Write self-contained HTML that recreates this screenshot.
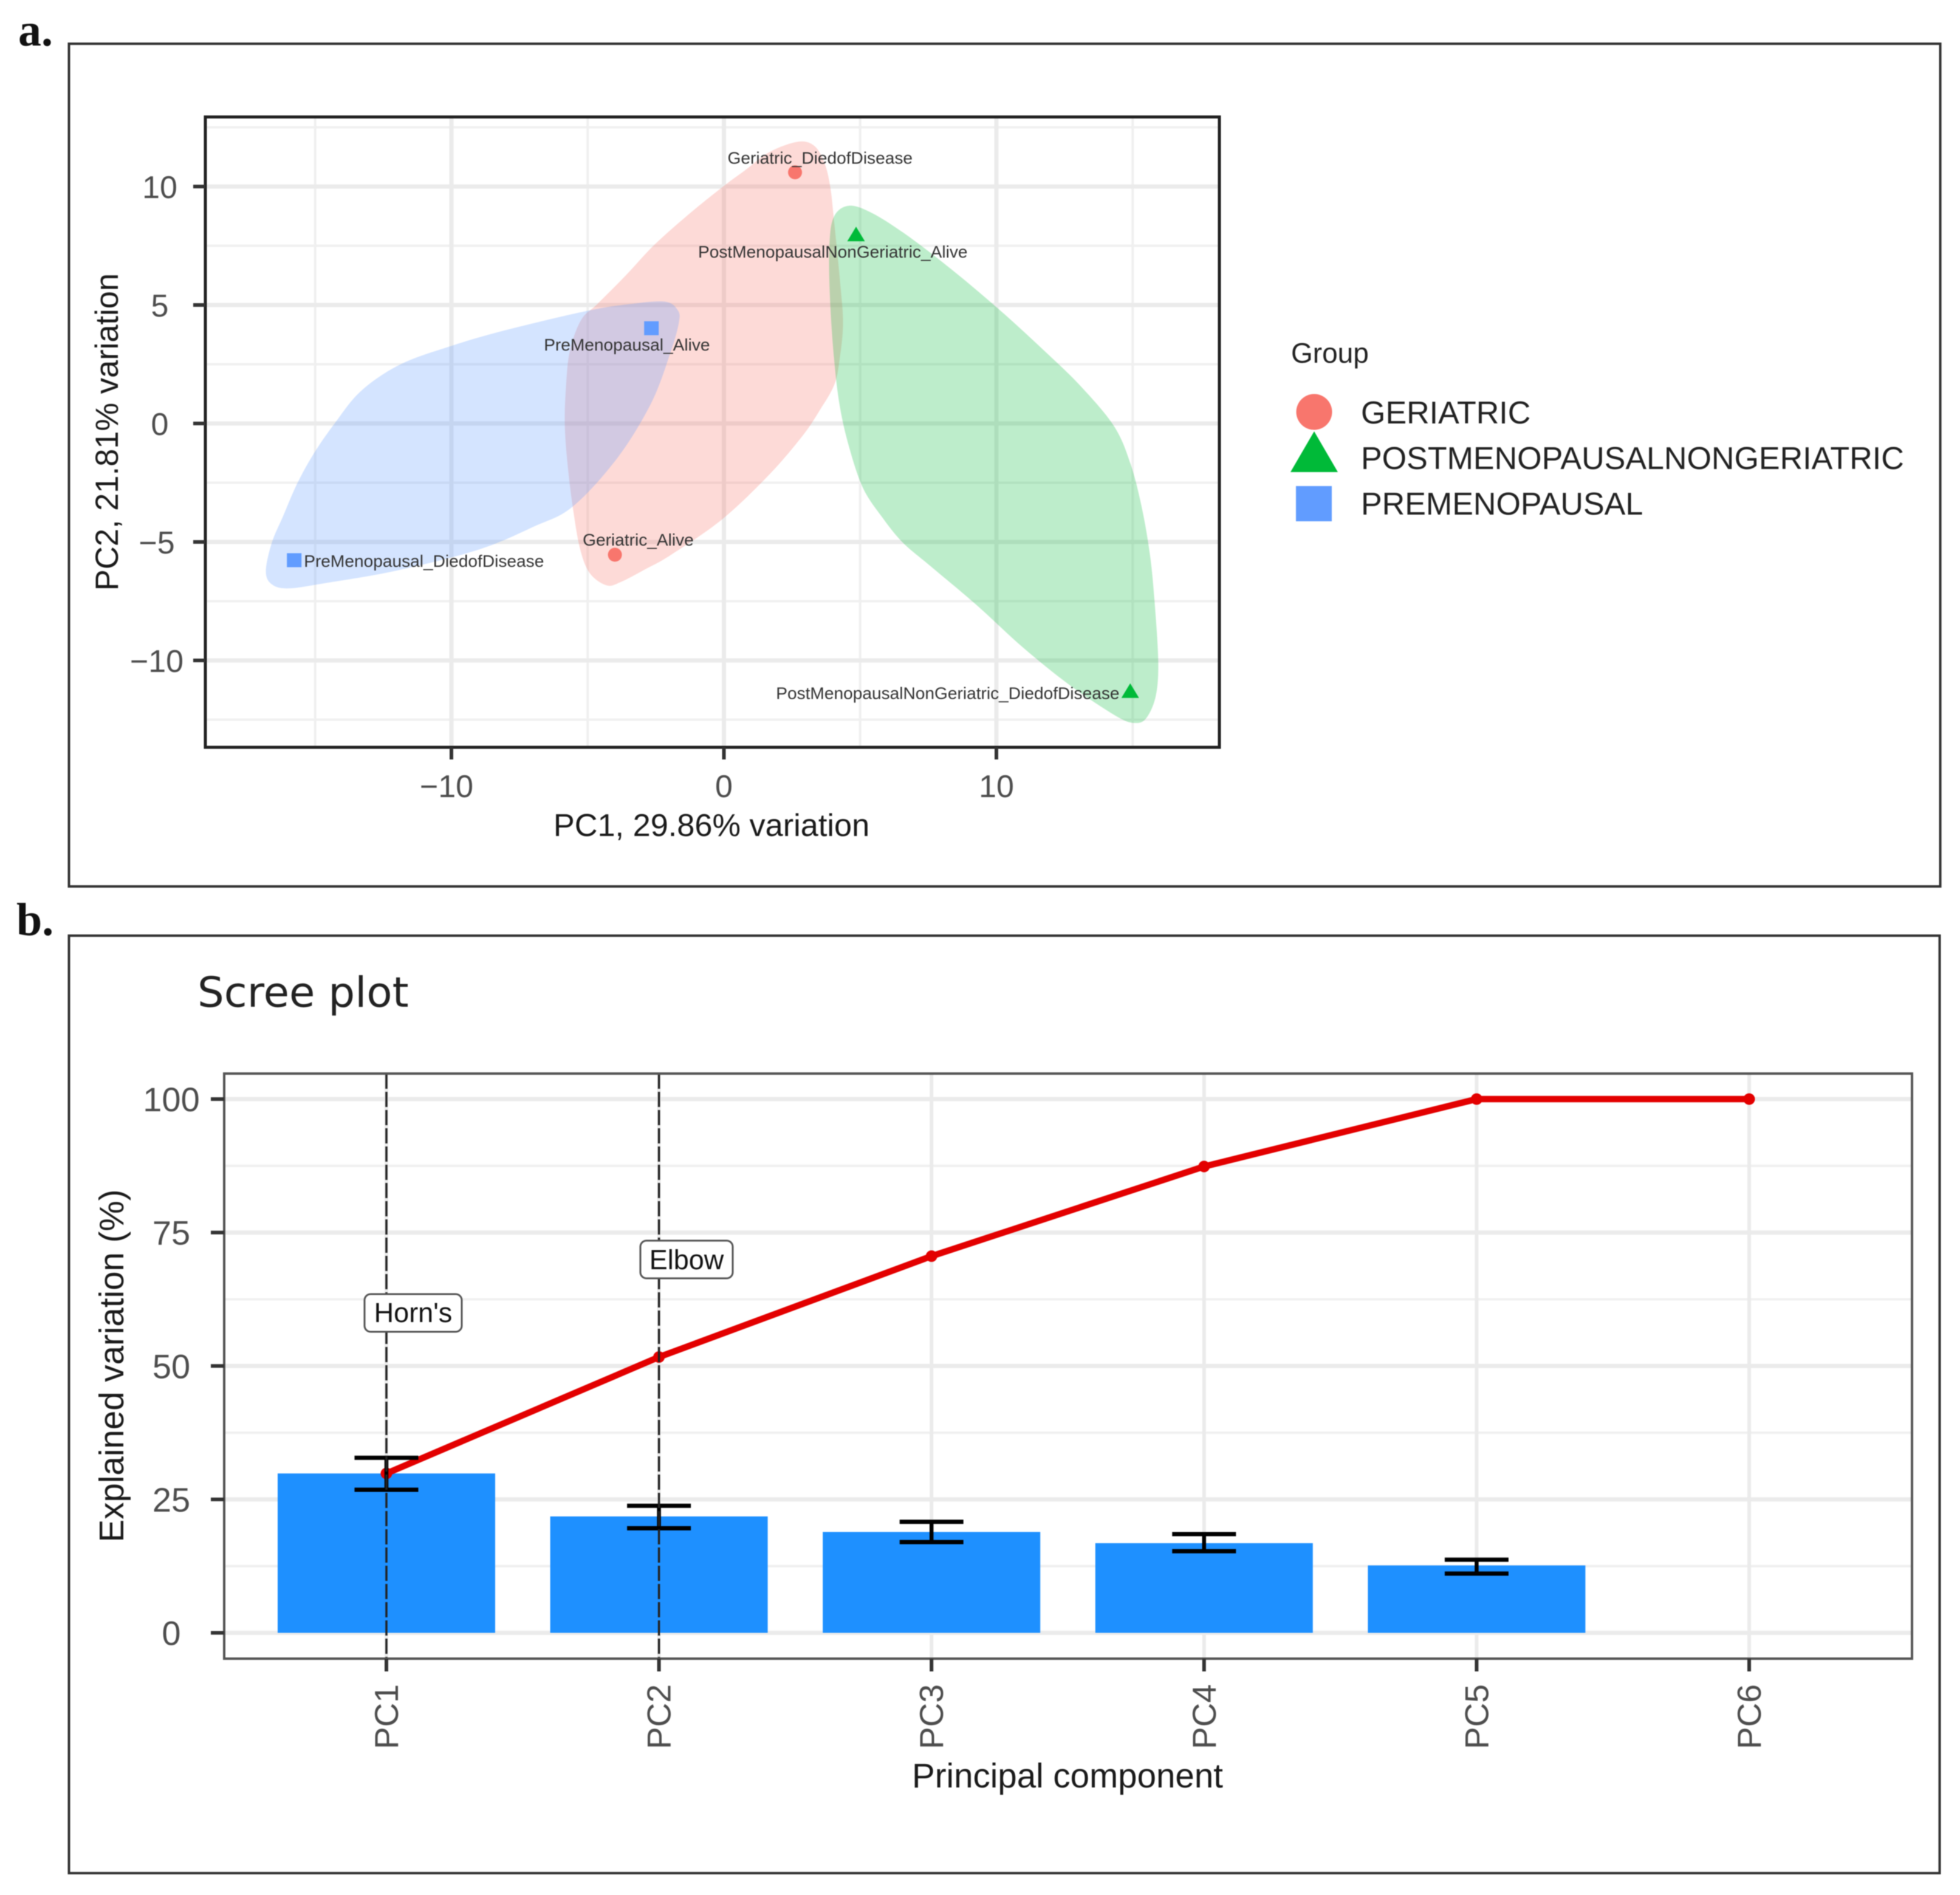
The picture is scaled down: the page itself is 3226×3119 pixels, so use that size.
<!DOCTYPE html>
<html lang="en">
<head>
<meta charset="utf-8">
<title>PCA biplot and scree plot</title>
<style>
  html, body { margin: 0; padding: 0; background: #ffffff; }
  #figure { display: block; width: 3226px; height: 3119px; filter: blur(0.7px); }
  text { font-family: "Liberation Sans", sans-serif; }
</style>
</head>
<body>
<svg id="figure" xmlns="http://www.w3.org/2000/svg" width="3226" height="3119" viewBox="0 0 3226 3119">
  <rect x="0" y="0" width="3226" height="3119" fill="#ffffff"/>

  <text x="30" y="75" font-size="76" font-weight="700" style="font-family:'Liberation Serif',serif" fill="#111">a.</text>
  <rect x="113.5" y="72" width="3080" height="1387" fill="none" stroke="#333" stroke-width="4"/>
  <g id="pca-plot"></g>
  <text x="1171" y="1376" font-size="52.3" text-anchor="middle" fill="#1a1a1a">PC1, 29.86% variation</text>
  <text transform="translate(194 711) rotate(-90)" font-size="52.5" text-anchor="middle" fill="#1a1a1a">PC2, 21.81% variation</text>

  <g>
    <text x="2125" y="597" font-size="46" fill="#222">Group</text>
    <g>
      <circle cx="2163" cy="678" r="29.5" fill="#F8766D"/>
      <text x="2240" y="697" font-size="52" fill="#222">GERIATRIC</text>
    </g>
    <g>
      <polygon points="2163,710 2202,777 2124,777" fill="#00BA38"/>
      <text x="2240" y="772" font-size="52" fill="#222">POSTMENOPAUSALNONGERIATRIC</text>
    </g>
    <g>
      <rect x="2133" y="800" width="59" height="58" fill="#619CFF"/>
      <text x="2240" y="847" font-size="52" fill="#222">PREMENOPAUSAL</text>
    </g>
  </g>

  <text x="27" y="1539" font-size="76" font-weight="700" style="font-family:'Liberation Serif',serif" fill="#111">b.</text>
  <rect x="113.5" y="1540" width="3079" height="1543" fill="none" stroke="#333" stroke-width="4"/>
  <text x="325" y="1657" font-size="69" style="font-family:'DejaVu Sans',sans-serif" fill="#222">Scree plot</text>
  <g id="scree-plot"></g>
  <text x="1757" y="2942" font-size="56.5" text-anchor="middle" fill="#1a1a1a">Principal component</text>
  <text transform="translate(203 2248) rotate(-90)" font-size="56.5" text-anchor="middle" fill="#1a1a1a">Explained variation (%)</text>
</svg>

<script>
// ---------- PCA chart data ----------
const sampleNames = ["Geriatric_DiedofDisease", "PostMenopausalNonGeriatric_Alive", "PreMenopausal_Alive", "Geriatric_Alive", "PreMenopausal_DiedofDisease", "PostMenopausalNonGeriatric_DiedofDisease"];
const sampleGroups = ["GERIATRIC", "POSTMENOPAUSALNONGERIATRIC", "PREMENOPAUSAL", "GERIATRIC", "PREMENOPAUSAL", "POSTMENOPAUSALNONGERIATRIC"];
const pc1Values = [2.61, 4.85, -2.66, -4.0, -15.77, 14.91];
const pc2Values = [10.6, 7.97, 4.02, -5.54, -5.77, -11.3];
const pcaXTicks = [-10, 0, 10];
const pcaXTickLabels = ["\u221210", "0", "10"];
const pcaXMinorTicks = [-15, -5, 5, 15];
const pcaYTicks = [10, 5, 0, -5, -10];
const pcaYTickLabels = ["10", "5", "0", "\u22125", "\u221210"];
const pcaYMinorTicks = [12.5, 7.5, 2.5, -2.5, -7.5, -12.5];

// Encircling blobs as [PC1, PC2] outline samples
const geriatricOutline = [[2.72,11.89],[3.31,11.72],[3.68,11.03],[3.90,10.01],[4.05,8.47],[4.27,5.9],[4.37,4.2],[4.24,2.66],[4.05,1.63],[3.54,0.6],[2.9,-0.5],[1.67,-2.15],[-0.05,-4.03],[-1.95,-5.55],[-2.88,-6.15],[-3.8,-6.7],[-4.31,-6.83],[-4.92,-6.32],[-5.28,-5.29],[-5.54,-3.58],[-5.74,-1.7],[-5.84,0],[-5.79,1.64],[-5.65,3.08],[-5.24,4.37],[-4.64,5.05],[-3.6,6.25],[-2.56,7.53],[-1.3,8.82],[-0.03,10.0],[0.78,10.69],[1.68,11.46]];
const postmenopausalOutline = [[4.59,9.19],[5.44,8.88],[6.72,7.94],[8.43,6.43],[10.14,4.77],[11.84,2.98],[13.12,1.54],[14.32,-0.12],[14.92,-1.7],[15.34,-3.57],[15.64,-5.59],[15.81,-7.6],[15.94,-10.05],[15.85,-11.49],[15.51,-12.42],[15.09,-12.64],[14.4,-12.35],[12.7,-11.05],[10.99,-9.47],[9.28,-7.67],[7.58,-6.02],[6.55,-5.01],[5.79,-3.93],[5.1,-2.71],[4.59,-0.98],[4.25,0.75],[4.04,2.76],[3.89,5.35],[3.87,7.51],[4.04,8.73]];
const premenopausalOutline = [[-2.16,5.14],[-1.70,4.79],[-1.65,4.28],[-1.96,3.0],[-2.67,0.86],[-3.9,-1.44],[-5.54,-3.5],[-6.97,-4.35],[-9.02,-5.33],[-12.1,-6.23],[-14.64,-6.74],[-15.97,-6.96],[-16.59,-6.79],[-16.81,-6.23],[-16.59,-5.03],[-16.18,-3.92],[-15.67,-2.56],[-15.05,-1.27],[-14.28,0.01],[-13.31,1.38],[-11.88,2.49],[-10.04,3.26],[-8.0,3.94],[-5.03,4.75],[-3.39,5.05]];

// ---------- Scree chart data ----------
const componentNames = ["PC1", "PC2", "PC3", "PC4", "PC5", "PC6"];
const explainedVariation = [29.86, 21.81, 18.9, 16.8, 12.63, 0];
const cumulativeVariation = [29.86, 51.67, 70.57, 87.37, 100, 100];
const errorUpper = [32.8, 23.8, 20.8, 18.5, 13.7];
const errorLower = [26.8, 19.6, 17.0, 15.3, 11.1];
const screeYTicks = [0, 25, 50, 75, 100];
const screeYTickLabels = ["0", "25", "50", "75", "100"];
const screeYMinorTicks = [12.5, 37.5, 62.5, 87.5];
const cutoffComponents = ["PC1", "PC2"];

// ---------- helpers ----------
const SVGNS = "http://www.w3.org/2000/svg";
function add(parent, tag, attrs, text) {
  const el = document.createElementNS(SVGNS, tag);
  for (const k in attrs) el.setAttribute(k, attrs[k]);
  if (text !== undefined) el.textContent = text;
  parent.appendChild(el);
  return el;
}
function closedSmoothPath(pts) {
  const n = pts.length;
  let d = "M" + pts[0][0].toFixed(1) + " " + pts[0][1].toFixed(1);
  for (let i = 0; i < n; i++) {
    const p0 = pts[(i - 1 + n) % n], p1 = pts[i], p2 = pts[(i + 1) % n], p3 = pts[(i + 2) % n];
    const c1x = p1[0] + (p2[0] - p0[0]) / 6, c1y = p1[1] + (p2[1] - p0[1]) / 6;
    const c2x = p2[0] - (p3[0] - p1[0]) / 6, c2y = p2[1] - (p3[1] - p1[1]) / 6;
    d += "C" + c1x.toFixed(1) + " " + c1y.toFixed(1) + " " + c2x.toFixed(1) + " " + c2y.toFixed(1) + " " + p2[0].toFixed(1) + " " + p2[1].toFixed(1);
  }
  return d + "Z";
}

// ---------- PCA chart ----------
(function () {
  const g = document.getElementById("pca-plot");
  const box = { left: 338, right: 2007, top: 192.5, bottom: 1230 };
  const xScale = v => 1191.5 + v * 44.85;
  const yScale = v => 697 - v * 39;

  pcaYMinorTicks.forEach(v => {
    const el = add(g, "line", { x1: box.left, x2: box.right, y1: yScale(v), y2: yScale(v), stroke: "#f0f0f0", "stroke-width": 4 });
    
    
  });
  pcaXMinorTicks.forEach(v => {
    const el = add(g, "line", { x1: xScale(v), x2: xScale(v), y1: box.top, y2: box.bottom, stroke: "#f0f0f0", "stroke-width": 4 });
    
    
  });
  pcaYTicks.forEach(v => {
    const el = add(g, "line", { x1: box.left, x2: box.right, y1: yScale(v), y2: yScale(v), stroke: "#ebebeb", "stroke-width": 7 });
    
    
  });
  pcaXTicks.forEach(v => {
    const el = add(g, "line", { x1: xScale(v), x2: xScale(v), y1: box.top, y2: box.bottom, stroke: "#ebebeb", "stroke-width": 7 });
    
    
  });

  const toPx = outline => outline.map(p => [xScale(p[0]), yScale(p[1])]);
  const blobGeriatric = add(g, "path", { d: closedSmoothPath(toPx(geriatricOutline)), fill: "#F8766D", "fill-opacity": 0.27 });
  
  
  const blobPost = add(g, "path", { d: closedSmoothPath(toPx(postmenopausalOutline)), fill: "#00BA38", "fill-opacity": 0.26 });
  
  
  const blobPre = add(g, "path", { d: closedSmoothPath(toPx(premenopausalOutline)), fill: "#619CFF", "fill-opacity": 0.27 });
  
  

  // label offset from its point: horizontal text start + baseline shift, by sample
  const labelDx = [-111, -260, -177, -53, 16, -583];
  const labelDy = [-14, 38, 37, -15, 11, 13];

  sampleNames.forEach((name, i) => {
    const cx = xScale(pc1Values[i]), cy = yScale(pc2Values[i]);
    let mark;
    if (sampleGroups[i] === "GERIATRIC") {
      mark = add(g, "circle", { cx: cx, cy: cy, r: 11.5, fill: "#F8766D" });
    } else if (sampleGroups[i] === "POSTMENOPAUSALNONGERIATRIC") {
      mark = add(g, "polygon", { points: (cx) + "," + (cy - 13) + " " + (cx + 14.5) + "," + (cy + 11) + " " + (cx - 14.5) + "," + (cy + 11), fill: "#00BA38" });
    } else {
      mark = add(g, "rect", { x: cx - 12, y: cy - 11.5, width: 24, height: 23, fill: "#619CFF" });
    }
    
    
    const label = add(g, "text", { x: cx + labelDx[i], y: cy + labelDy[i], "font-size": 28.1, fill: "#333" }, name);
    
    
  });

  const border = add(g, "rect", { x: box.left, y: box.top, width: box.right - box.left, height: box.bottom - box.top, fill: "none", stroke: "#222", "stroke-width": 5 });
  
  

  pcaYTicks.forEach((v, i) => {
    const t = add(g, "line", { x1: box.left - 20, x2: box.left, y1: yScale(v), y2: yScale(v), stroke: "#333", "stroke-width": 6 });
    
    
    const l = add(g, "text", { x: v < 0 ? 258 : 263, y: yScale(v) + 19, "font-size": 52, "text-anchor": "middle", fill: "#4d4d4d" }, pcaYTickLabels[i]);
    
    
  });
  pcaXTicks.forEach((v, i) => {
    const t = add(g, "line", { x1: xScale(v), x2: xScale(v), y1: box.bottom, y2: box.bottom + 20, stroke: "#333", "stroke-width": 6 });
    
    
    const l = add(g, "text", { x: xScale(v) - (v < 0 ? 8 : 0), y: 1312, "font-size": 52, "text-anchor": "middle", fill: "#4d4d4d" }, pcaXTickLabels[i]);
    
    
  });
})();

// ---------- Scree chart ----------
(function () {
  const g = document.getElementById("scree-plot");
  const box = { left: 369, right: 3147, top: 1767, bottom: 2730 };
  const xScale = name => 636 + componentNames.indexOf(name) * 448.6;
  const yScale = v => 2687.5 - v * 8.785;
  const barWidth = 358, capWidth = 105;

  screeYMinorTicks.forEach(v => {
    const el = add(g, "line", { x1: box.left, x2: box.right, y1: yScale(v), y2: yScale(v), stroke: "#f0f0f0", "stroke-width": 4 });
    
    
  });
  screeYTicks.forEach(v => {
    const el = add(g, "line", { x1: box.left, x2: box.right, y1: yScale(v), y2: yScale(v), stroke: "#ebebeb", "stroke-width": 7 });
    
    
  });
  componentNames.forEach(name => {
    const el = add(g, "line", { x1: xScale(name), x2: xScale(name), y1: box.top, y2: box.bottom, stroke: "#ebebeb", "stroke-width": 6 });
    
    
  });

  componentNames.forEach((name, i) => {
    if (explainedVariation[i] <= 0) return;
    const bar = add(g, "rect", { x: xScale(name) - barWidth / 2, y: yScale(explainedVariation[i]), width: barWidth, height: yScale(0) - yScale(explainedVariation[i]), fill: "#1E90FF" });
    
    
  });

  const linePts = componentNames.map((name, i) => xScale(name).toFixed(1) + "," + yScale(cumulativeVariation[i]).toFixed(1)).join(" ");
  const cumLine = add(g, "polyline", { points: linePts, fill: "none", stroke: "#E30000", "stroke-width": 10.5, "stroke-linejoin": "round" });
  
  
  componentNames.forEach((name, i) => {
    const dot = add(g, "circle", { cx: xScale(name), cy: yScale(cumulativeVariation[i]), r: 9.5, fill: "#E30000" });
    
    
  });

  errorUpper.forEach((hi, i) => {
    const name = componentNames[i];
    const x = xScale(name), lo = errorLower[i];
    const stem = add(g, "line", { x1: x, x2: x, y1: yScale(hi), y2: yScale(lo), stroke: "#000", "stroke-width": 6.5 });
    
    
    const top = add(g, "line", { x1: x - capWidth / 2, x2: x + capWidth / 2, y1: yScale(hi), y2: yScale(hi), stroke: "#000", "stroke-width": 7 });
    
    
    const bot = add(g, "line", { x1: x - capWidth / 2, x2: x + capWidth / 2, y1: yScale(lo), y2: yScale(lo), stroke: "#000", "stroke-width": 7 });
    
    
  });

  cutoffComponents.forEach(name => {
    const v = add(g, "line", { x1: xScale(name), x2: xScale(name), y1: box.top, y2: box.bottom, stroke: "#222", "stroke-width": 3.5, "stroke-dasharray": "25 5" });
    
    
  });

  const hornBox = add(g, "rect", { x: 600, y: 2130, width: 160, height: 62, rx: 10, fill: "#fff", stroke: "#555", "stroke-width": 3 });
  
  
  const hornText = add(g, "text", { x: 680, y: 2176, "font-size": 45, "text-anchor": "middle", fill: "#111" }, "Horn's");
  
  
  const elbowBox = add(g, "rect", { x: 1054, y: 2042, width: 152, height: 62, rx: 10, fill: "#fff", stroke: "#555", "stroke-width": 3 });
  
  
  const elbowText = add(g, "text", { x: 1130, y: 2089, "font-size": 45, "text-anchor": "middle", fill: "#111" }, "Elbow");
  
  

  const border = add(g, "rect", { x: box.left, y: box.top, width: box.right - box.left, height: box.bottom - box.top, fill: "none", stroke: "#555", "stroke-width": 4 });
  
  

  screeYTicks.forEach((v, i) => {
    const t = add(g, "line", { x1: box.left - 22, x2: box.left, y1: yScale(v), y2: yScale(v), stroke: "#333", "stroke-width": 6 });
    
    
    const l = add(g, "text", { x: 282, y: yScale(v) + 20, "font-size": 56, "text-anchor": "middle", fill: "#4d4d4d" }, screeYTickLabels[i]);
    
    
  });
  componentNames.forEach(name => {
    const x = xScale(name);
    const t = add(g, "line", { x1: x, x2: x, y1: box.bottom, y2: box.bottom + 21, stroke: "#333", "stroke-width": 6 });
    
    
    const l = add(g, "text", { transform: "translate(" + (x + 19) + " 2879) rotate(-90)", "font-size": 55, fill: "#4d4d4d" }, name);
    
    
  });
})();
</script>
</body>
</html>
